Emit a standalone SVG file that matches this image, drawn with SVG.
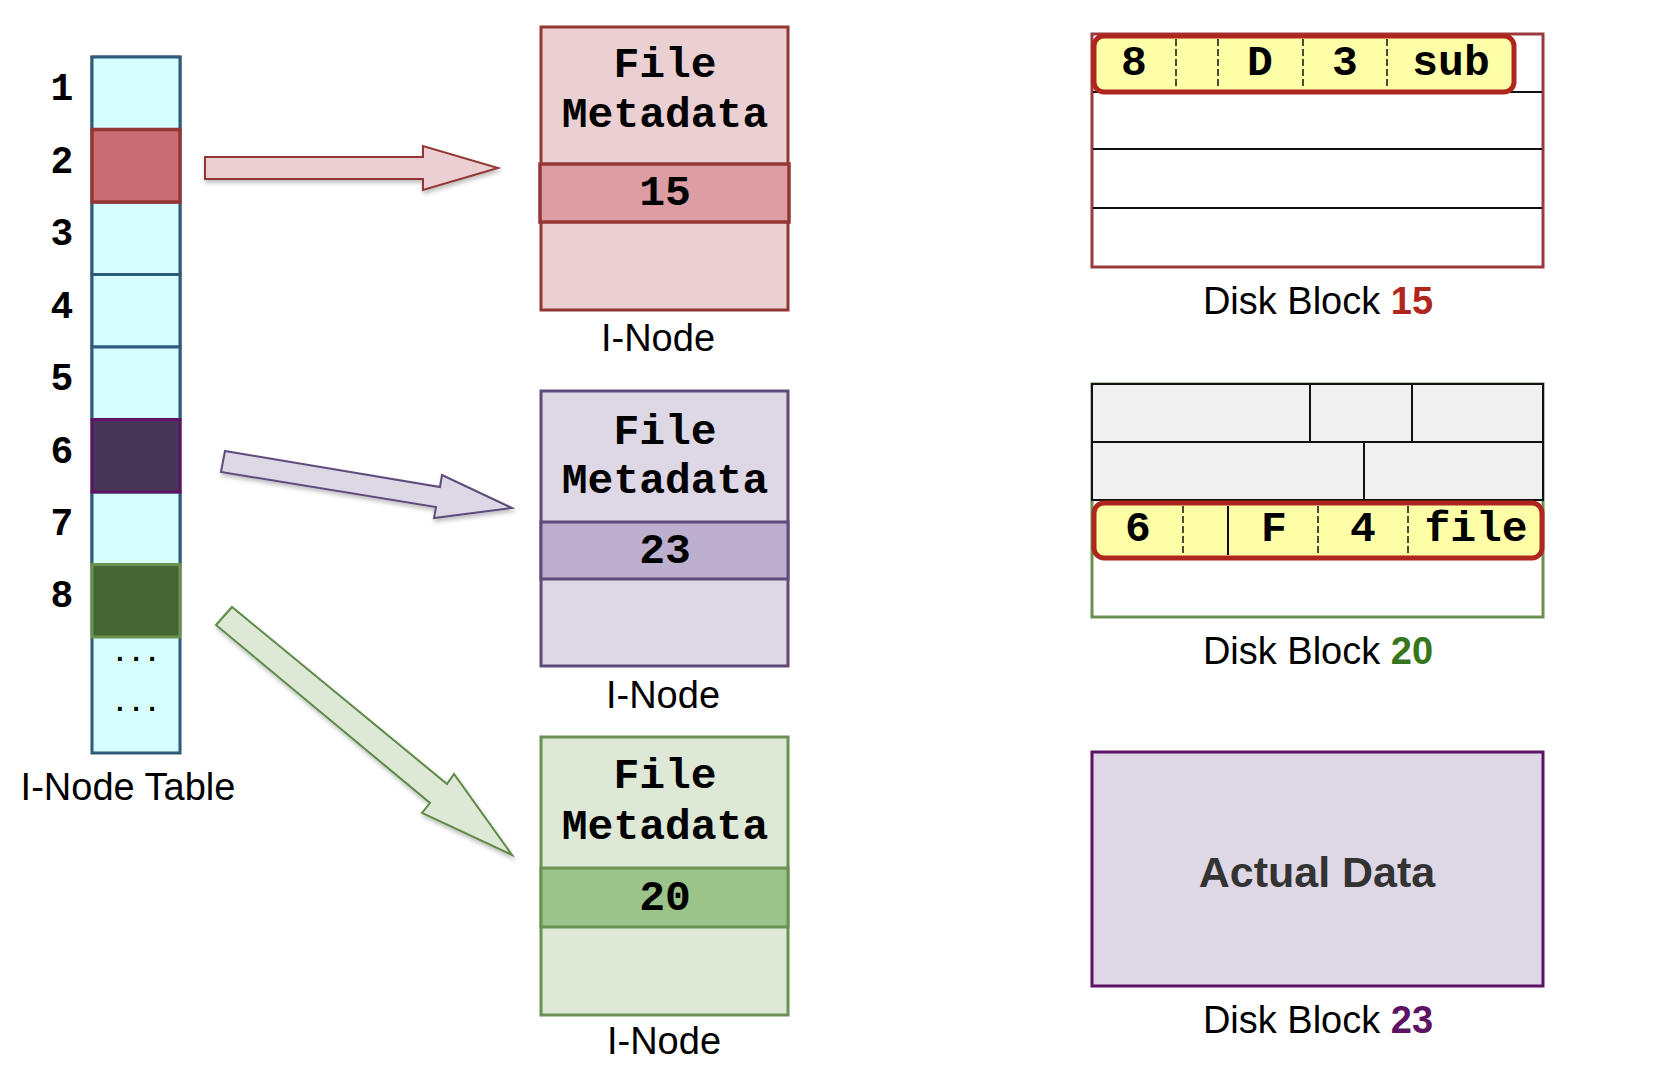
<svg xmlns="http://www.w3.org/2000/svg" width="1660" height="1076" viewBox="0 0 1660 1076">
  <style>
    .mono { font-family: "Liberation Mono", "Courier New", monospace; font-weight: bold; fill: #000; }
    .sans { font-family: "Liberation Sans", Arial, Helvetica, sans-serif; fill: #000; }
    .idx { font-size: 38px; text-anchor: middle; }
    .meta { font-size: 43px; text-anchor: middle; }
    .label { font-size: 38px; text-anchor: middle; }
    .cell { fill: #D6FEFE; stroke: #2E5A7C; stroke-width: 3; }
    .grid { stroke: #111; stroke-width: 2; fill: none; }
    .used { stroke: #111; stroke-width: 2; fill: #F0F0F0; }
    .dash { stroke: #111; stroke-width: 1.5; stroke-dasharray: 7 3; }
    .entry { fill: #FFFFA8; stroke: #B0261E; stroke-width: 5; }
    .arrow { stroke-width: 2; stroke-linejoin: miter; filter: url(#shadow); }
  </style>
  <defs>
    <filter id="shadow" x="-10%" y="-10%" width="130%" height="140%">
      <feDropShadow dx="1" dy="3" stdDeviation="2" flood-color="#000" flood-opacity="0.25"/>
    </filter>
  </defs>

  <rect width="1660" height="1076" fill="#fff"/>

  <!-- I-node table -->
  <g id="inode-table">
    <rect class="cell" x="92" y="57" width="88" height="696"/>
    <rect class="cell" x="92" y="57" width="88" height="72.5"/>
    <rect class="cell" x="92" y="202" width="88" height="72.5"/>
    <rect class="cell" x="92" y="274.5" width="88" height="72.5"/>
    <rect class="cell" x="92" y="347" width="88" height="72.5"/>
    <rect class="cell" x="92" y="492" width="88" height="72.5"/>
    <rect x="92" y="129.5" width="88" height="72.5" fill="#C96E74" stroke="#943634" stroke-width="3.5"/>
    <rect x="92" y="419.5" width="88" height="72.5" fill="#473657" stroke="#5E1263" stroke-width="3"/>
    <rect x="92" y="564.5" width="88" height="72.5" fill="#466535" stroke="#6A9152" stroke-width="3"/>
    <text class="mono idx" x="62" y="100">1</text>
    <text class="mono idx" x="62" y="173">2</text>
    <text class="mono idx" x="62" y="245">3</text>
    <text class="mono idx" x="62" y="318">4</text>
    <text class="mono idx" x="62" y="390">5</text>
    <text class="mono idx" x="62" y="463">6</text>
    <text class="mono idx" x="62" y="535">7</text>
    <text class="mono idx" x="62" y="607">8</text>
    <text class="mono" x="136" y="661" font-size="27" text-anchor="middle">...</text>
    <text class="mono" x="136" y="711" font-size="27" text-anchor="middle">...</text>
    <text class="sans label" x="128" y="800">I-Node Table</text>
  </g>

  <!-- Pointers from table entries to their i-nodes -->
  <g id="connectors">
    <polygon class="arrow" fill="#EBD0D3" stroke="#943634"
      points="205,157 423,157 423,146 498,168 423,190 423,179 205,179"/>
    <polygon class="arrow" fill="#DED8E6" stroke="#5F4B7B"
      points="225,451 440,487 442,475 512,508 434,518 436,507 221,472"/>
    <polygon class="arrow" fill="#DDE8D6" stroke="#5E8A46"
      points="232,607 447,784 454,774 512,855 422,813 430,803 216,625"/>
  </g>

  <!-- I-node for entry 2 -->
  <g id="inode-2">
    <rect x="541" y="27" width="247" height="283" fill="#EBD0D3" stroke="#943634" stroke-width="3"/>
    <rect x="540" y="164" width="249" height="58" fill="#DC9EA4" stroke="#943634" stroke-width="3.5"/>
    <text class="mono meta" x="665" y="77">File</text>
    <text class="mono meta" x="665" y="127">Metadata</text>
    <text class="mono meta" x="665" y="205">15</text>
    <text class="sans label" x="658" y="351">I-Node</text>
  </g>

  <!-- I-node for entry 6 -->
  <g id="inode-6">
    <rect x="541" y="391" width="247" height="275" fill="#DED8E6" stroke="#5F4B7B" stroke-width="3"/>
    <rect x="541" y="522" width="247" height="57" fill="#BDB0CF" stroke="#5F4B7B" stroke-width="3"/>
    <text class="mono meta" x="665" y="444">File</text>
    <text class="mono meta" x="665" y="493">Metadata</text>
    <text class="mono meta" x="665" y="563">23</text>
    <text class="sans label" x="663" y="708">I-Node</text>
  </g>

  <!-- I-node for entry 8 -->
  <g id="inode-8">
    <rect x="541" y="737" width="247" height="278" fill="#DDE8D6" stroke="#6A9152" stroke-width="3"/>
    <rect x="541" y="868" width="247" height="59" fill="#9BC38A" stroke="#6A9152" stroke-width="3"/>
    <text class="mono meta" x="665" y="788">File</text>
    <text class="mono meta" x="665" y="839">Metadata</text>
    <text class="mono meta" x="665" y="910">20</text>
    <text class="sans label" x="664" y="1054">I-Node</text>
  </g>

  <!-- Disk block 15: directory with entry "sub" -->
  <g id="block-15">
    <rect x="1092" y="34" width="451" height="233" fill="#fff" stroke="#9B3A3E" stroke-width="3"/>
    <line class="grid" x1="1093" y1="92" x2="1542" y2="92"/>
    <line class="grid" x1="1093" y1="149" x2="1542" y2="149"/>
    <line class="grid" x1="1093" y1="208" x2="1542" y2="208"/>
    <rect class="entry" x="1094" y="36" width="420" height="56" rx="10"/>
    <line class="dash" x1="1176" y1="39" x2="1176" y2="89"/>
    <line class="dash" x1="1218" y1="39" x2="1218" y2="89"/>
    <line class="dash" x1="1303" y1="39" x2="1303" y2="89"/>
    <line class="dash" x1="1387" y1="39" x2="1387" y2="89"/>
    <text class="mono meta" x="1134" y="75">8</text>
    <text class="mono meta" x="1260" y="75">D</text>
    <text class="mono meta" x="1345" y="75">3</text>
    <text class="mono meta" x="1451" y="75">sub</text>
    <text class="sans label" x="1318" y="314">Disk Block <tspan font-weight="bold" fill="#B0261E">15</tspan></text>
  </g>

  <!-- Disk block 20: directory with entry "file" -->
  <g id="block-20">
    <rect x="1092" y="384" width="451" height="233" fill="#fff" stroke="#6A9152" stroke-width="3"/>
    <rect class="used" x="1092" y="384" width="218" height="58"/>
    <rect class="used" x="1310" y="384" width="102" height="58"/>
    <rect class="used" x="1412" y="384" width="131" height="58"/>
    <rect class="used" x="1092" y="442" width="272" height="58"/>
    <rect class="used" x="1364" y="442" width="179" height="58"/>
    <rect class="entry" x="1094" y="503" width="448" height="55" rx="10"/>
    <line class="dash" x1="1183" y1="506" x2="1183" y2="555"/>
    <line class="grid" x1="1228" y1="506" x2="1228" y2="555"/>
    <line class="dash" x1="1318" y1="506" x2="1318" y2="555"/>
    <line class="dash" x1="1408" y1="506" x2="1408" y2="555"/>
    <text class="mono meta" x="1138" y="541">6</text>
    <text class="mono meta" x="1274" y="541">F</text>
    <text class="mono meta" x="1363" y="541">4</text>
    <text class="mono meta" x="1476" y="541">file</text>
    <text class="sans label" x="1318" y="664">Disk Block <tspan font-weight="bold" fill="#38761D">20</tspan></text>
  </g>

  <!-- Disk block 23: file contents -->
  <g id="block-23">
    <rect x="1092" y="752" width="451" height="234" fill="#DED8E6" stroke="#5E1263" stroke-width="3"/>
    <text class="sans" x="1317" y="887" font-size="43" font-weight="bold" text-anchor="middle" style="fill:#333">Actual Data</text>
    <text class="sans label" x="1318" y="1033">Disk Block <tspan font-weight="bold" fill="#5E1263">23</tspan></text>
  </g>
</svg>
